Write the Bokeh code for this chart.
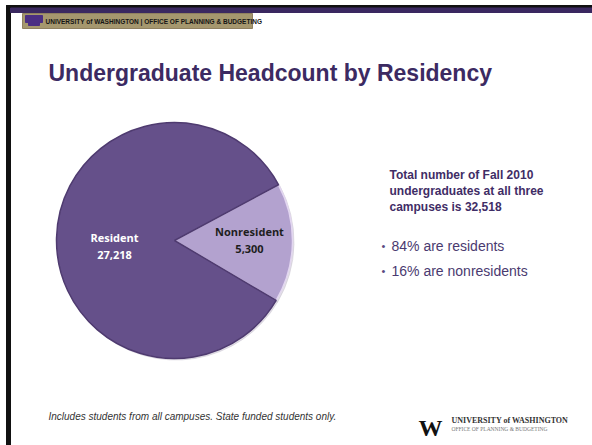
import math
from bokeh.plotting import figure
from bokeh.models import ColumnDataSource, Range1d
from bokeh.core.properties import value
from bokeh.embed import file_html
from bokeh.resources import INLINE

# ---- data ----
categories = ["Nonresident", "Resident"]
headcount = [5300, 27218]
slice_colors = ["#b3a2cf", "#65508a"]
label_colors = ["#1e1e1e", "#ffffff"]
term = "Fall 2010"
title = "Undergraduate Headcount by Residency"
footnote = "Includes students from all campuses. State funded students only."

total = sum(headcount)
pcts = [round(100 * v / total) for v in headcount]

W, H = 592, 445
p = figure(width=W, height=H, output_backend="svg", toolbar_location=None,
           x_range=Range1d(0, W), y_range=Range1d(0, H), min_border=0)
p.axis.visible = False
p.grid.visible = False
p.outline_line_color = None
p.background_fill_color = "white"
p.border_fill_color = "white"


def Y(py):
    return H - py


# slide frame
p.quad(left=6, right=10, bottom=0, top=Y(5), color="#111111")
p.quad(left=6, right=W, bottom=Y(7.5), top=Y(5), color="#111111")
p.quad(left=10, right=W, bottom=Y(12), top=Y(7.5), color="#3a2860")

# header strip
p.quad(left=22, right=252, bottom=Y(28), top=Y(13), fill_color="#a5976e", line_color="#8f8060")
p.quad(left=25, right=42, bottom=Y(22), top=Y(15), color="#4b2e83")
p.quad(left=28, right=39, bottom=Y(25), top=Y(22), color="#4b2e83")
p.text(x=[45], y=[Y(20.5)], text=["UNIVERSITY of WASHINGTON  |  OFFICE OF PLANNING & BUDGETING"],
       text_font=value("Liberation Sans"), text_font_style="bold", text_font_size="6.5px",
       text_color="#151515", text_baseline="middle")

# title
p.text(x=[48], y=[Y(72)], text=[title], text_font=value("Liberation Sans"),
       text_font_style="bold", text_font_size="23px", text_color="#3c2a62",
       text_baseline="alphabetic")

# pie
cx, cy, r = 174, Y(240), 118
start0 = math.radians(-30.5)
starts, ends = [], []
acc = start0
for v in headcount:
    starts.append(acc)
    acc += 2 * math.pi * v / total
    ends.append(acc)
src = ColumnDataSource(dict(cat=categories, v=headcount, s=starts, e=ends,
                            c=slice_colors, lc=["#e2d6f0", "#4f3b70"]))
p.wedge(x=cx + 1.5, y=cy - 1.5, radius=r, start_angle="s", end_angle="e",
        color="#c8c2d0", alpha=0.5, source=src)
p.wedge(x=cx, y=cy, radius=r, start_angle="s", end_angle="e",
        fill_color="c", line_color="lc", line_width=1.5, source=src)

# pie labels
lab_x = [249, 114]
lab_y = [Y(231), Y(237)]
for i, cat in enumerate(categories):
    p.text(x=[lab_x[i]], y=[lab_y[i]], text=[cat], text_font=value("Open Sans"),
           text_font_style="bold", text_font_size="11px", text_color=label_colors[i],
           text_align="center", text_baseline="middle")
    p.text(x=[lab_x[i]], y=[lab_y[i] - 17], text=[f"{headcount[i]:,}"],
           text_font=value("Open Sans"), text_font_style="bold", text_font_size="11px",
           text_color=label_colors[i], text_align="center", text_baseline="middle")

# right-hand text
lines = ["Total number of " + term, "undergraduates at all three", f"campuses is {total:,}"]
for i, ln in enumerate(lines):
    p.text(x=[389], y=[Y(174) - 16 * i], text=[ln], text_font=value("Liberation Sans"),
           text_font_style="bold", text_font_size="12px", text_color="#3f2d66",
           text_baseline="alphabetic")
bullets = [f"{pcts[1]}% are residents", f"{pcts[0]}% are nonresidents"]
for i, b in enumerate(bullets):
    yy = Y(245) - 25 * i
    p.text(x=[381], y=[yy], text=["•"], text_font=value("Liberation Sans"),
           text_font_size="11px", text_color="#5a4a80", text_baseline="alphabetic")
    p.text(x=[391], y=[yy], text=[b], text_font=value("Liberation Sans"),
           text_font_size="14px", text_color="#4a3a70", text_baseline="alphabetic")

# footnote
p.text(x=[48], y=[Y(416)], text=[footnote], text_font=value("Liberation Sans"),
       text_font_style="italic", text_font_size="10px", text_color="#333333",
       text_baseline="alphabetic")

# logo
p.text(x=[418], y=[Y(427)], text=["W"], text_font=value("Liberation Serif"),
       text_font_style="bold", text_font_size="24px", text_color="#111111",
       text_baseline="alphabetic")
p.text(x=[451], y=[Y(420)], text=["UNIVERSITY of WASHINGTON"], text_font=value("Liberation Serif"),
       text_font_style="bold", text_font_size="8px", text_color="#333333",
       text_baseline="alphabetic")
p.text(x=[451], y=[Y(428)], text=["OFFICE OF PLANNING & BUDGETING"], text_font=value("Liberation Serif"),
       text_font_size="5.5px", text_color="#777777", text_baseline="alphabetic")

open("out.html", "w").write(file_html(p, INLINE))
